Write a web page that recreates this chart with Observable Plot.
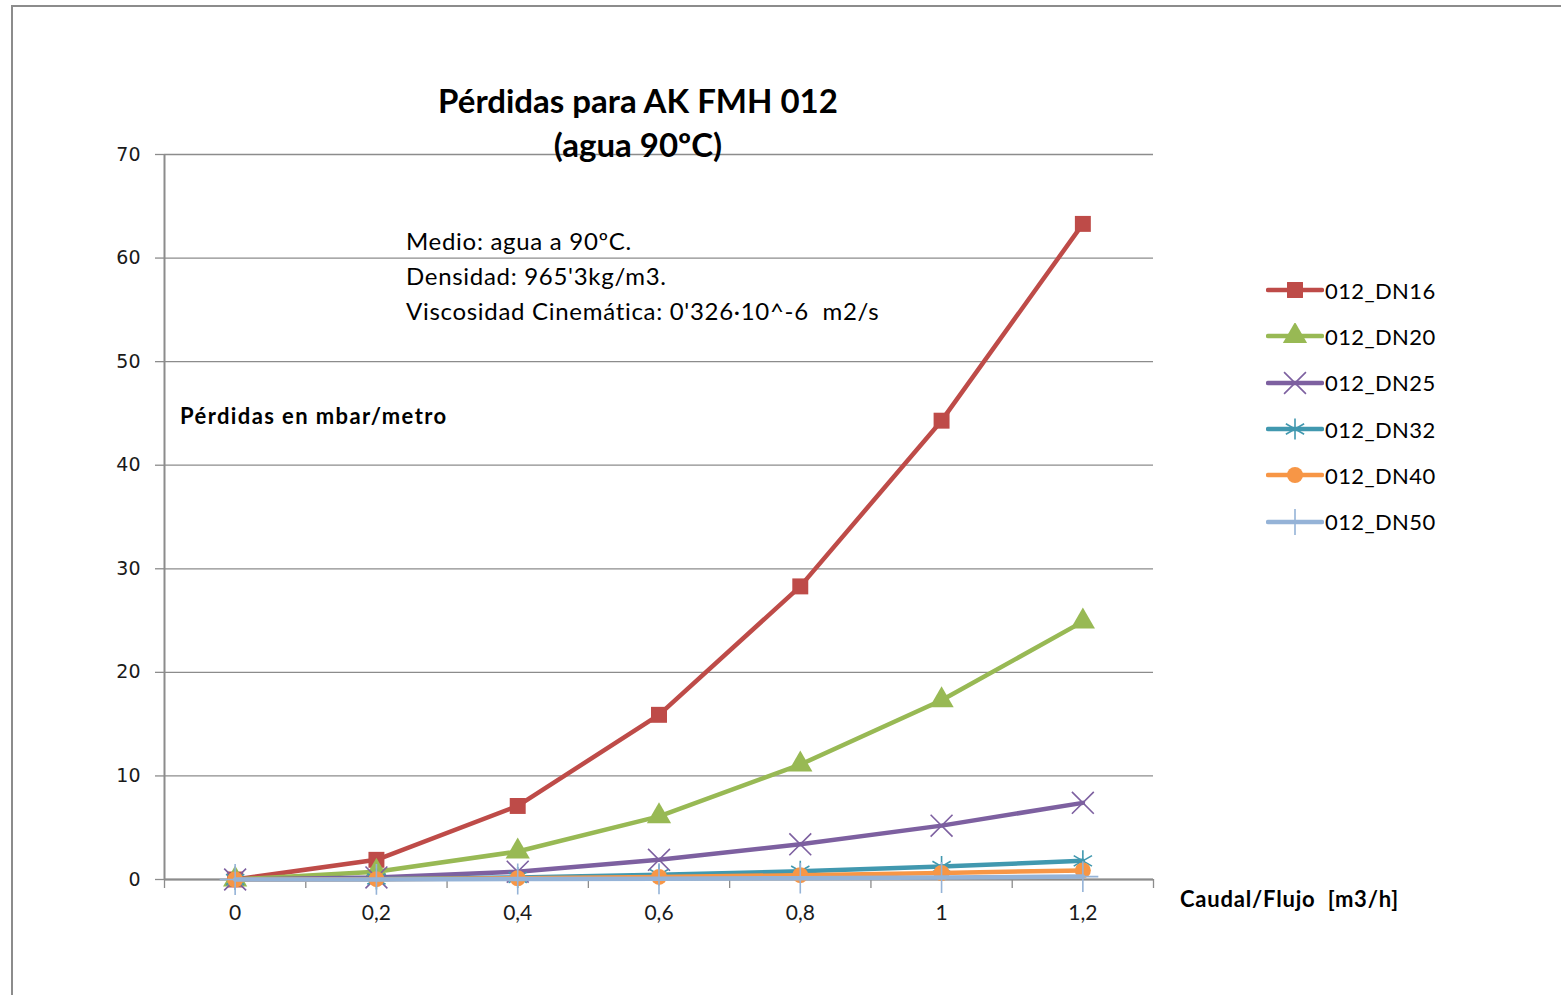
<!DOCTYPE html>
<html>
<head>
<meta charset="utf-8">
<script src="https://cdn.jsdelivr.net/npm/d3@7"></script>
<script src="https://cdn.jsdelivr.net/npm/@observablehq/plot@0.6"></script>
<style>
  html, body { margin: 0; padding: 0; background: #fff; overflow: hidden; }
  #wrap { position: relative; width: 1561px; height: 995px; }
  #frame { position: absolute; left: 11px; top: 5px; width: 1600px; height: 1100px; border: 2px solid #8c8c8c; box-sizing: border-box; }
  .t { position: absolute; white-space: pre; color: #000; font-family: Lato, "Open Sans", sans-serif; }
  #title { left: 418px; width: 440px; top: 78px; text-align: center; font-weight: bold; font-size: 33px; line-height: 44px; }
  .note { left: 406px; font-size: 24px; letter-spacing: 0.7px; }
  .lab { font-weight: bold; font-size: 22px; letter-spacing: 1.4px; }
  #legend { position: absolute; left: 1266px; top: 267px; }
  .li { display: flex; align-items: center; height: 46.3px; font-family: Lato, sans-serif; font-size: 22px; letter-spacing: 0.4px; }
  .li svg { margin-right: 1px; }
  #chart { position: absolute; left: 0; top: 0; }
</style>
</head>
<body>
<div id="wrap">
  <div id="frame"></div>
  <div id="chart"></div>
  <div id="title" class="t">Pérdidas para AK FMH 012
(agua 90ºC)</div>
  <div class="t note" style="top:226px">Medio: agua a 90ºC.</div>
  <div class="t note" style="top:261px">Densidad: 965'3kg/m3.</div>
  <div class="t note" style="top:296px">Viscosidad Cinemática: 0'326·10^-6  m2/s</div>
  <div class="t lab" style="left:180px; top:402px">Pérdidas en mbar/metro</div>
  <div class="t lab" style="left:1180px; top:885px; letter-spacing:0.8px">Caudal/Flujo  [m3/h]</div>
  <div id="legend"></div>
</div>
<script>
// ---- data ----
const caudal = [0, 0.2, 0.4, 0.6, 0.8, 1.0, 1.2];
const seriesNames = ["012_DN16", "012_DN20", "012_DN25", "012_DN32", "012_DN40", "012_DN50"];
const dn16 = [0, 1.9, 7.1, 15.9, 28.3, 44.3, 63.3];
const dn20 = [0, 0.75, 2.7, 6.1, 11.1, 17.3, 24.9];
const dn25 = [0, 0.2, 0.75, 1.9, 3.4, 5.2, 7.4];
const dn32 = [0, 0.05, 0.2, 0.45, 0.8, 1.25, 1.8];
const dn40 = [0, 0.03, 0.12, 0.25, 0.42, 0.63, 0.88];
const dn50 = [0, 0.01, 0.04, 0.08, 0.13, 0.2, 0.28];
const yTicks = [0, 10, 20, 30, 40, 50, 60, 70];
const xTickLabels = ["0", "0,2", "0,4", "0,6", "0,8", "1", "1,2"];

const colors = ["#BE4B48", "#98B954", "#7D60A0", "#4198AF", "#F79646", "#95B3D7"];
const symbols = ["square", "triangle", "times", "asterisk", "circle", "plus"];
const radii = [9, 9, 10, 10, 8, 10];

const values = [dn16, dn20, dn25, dn32, dn40, dn50];
const rows = [];
seriesNames.forEach((s, i) => values[i].forEach((v, j) => rows.push({serie: s, x: caudal[j], y: v, idx: i})));

const bounds = d3.range(caudal.length + 1).map(i => -0.1 + i * 0.2);

const marks = [
  Plot.gridY(yTicks, {stroke: "#8c8c8c", strokeOpacity: 1, strokeWidth: 1.3}),
  Plot.ruleX([-0.1], {stroke: "#8c8c8c", strokeWidth: 2}),
  Plot.ruleY([0], {stroke: "#8c8c8c", strokeWidth: 2}),
  Plot.axisY(yTicks, {label: null, tickSize: 9, tickPadding: 15, stroke: "#8c8c8c", strokeWidth: 1.3,
    fontSize: 19, fontFamily: "DejaVu Sans", fill: "#1a1a1a", tickFormat: d => String(d)}),
  Plot.axisX(bounds, {label: null, tickSize: 9, stroke: "#8c8c8c", strokeWidth: 1.3, tickFormat: () => ""}),
  Plot.axisX(caudal, {label: null, tickSize: 0, tickPadding: 26, fontSize: 21, fontFamily: "Lato, sans-serif", fill: "#1a1a1a",
    tickFormat: (d, i) => xTickLabels[i]})
];
seriesNames.forEach((s, i) => {
  const d = rows.filter(r => r.serie === s);
  marks.push(Plot.line(d, {x: "x", y: "y", stroke: colors[i], strokeWidth: 4.5}));
  const filled = ["square", "triangle", "circle"].includes(symbols[i]);
  marks.push(Plot.dot(d, {x: "x", y: "y", symbol: () => symbols[i], r: radii[i],
    fill: filled ? colors[i] : "none", stroke: colors[i], strokeWidth: filled ? 0 : 1.6}));
});

const chart = Plot.plot({
  width: 1561, height: 995,
  marginLeft: 164, marginRight: 408, marginTop: 154, marginBottom: 116,
  x: {domain: [-0.1, 1.3], axis: null},
  y: {domain: [0, 70], axis: null},
  symbol: {type: "identity"},
  style: {background: "transparent"},
  marks
});
document.getElementById("chart").appendChild(chart);

// ---- legend ----
const leg = document.getElementById("legend");
const symMap = {square: d3.symbolSquare, triangle: d3.symbolTriangle, times: d3.symbolTimes,
  asterisk: d3.symbolAsterisk, circle: d3.symbolCircle, plus: d3.symbolPlus};
seriesNames.forEach((s, i) => {
  const row = document.createElement("div");
  row.className = "li";
  const svg = d3.create("svg").attr("width", 58).attr("height", 26);
  svg.append("line").attr("x1", 2).attr("x2", 56).attr("y1", 13).attr("y2", 13)
    .attr("stroke", colors[i]).attr("stroke-width", 4.5).attr("stroke-linecap", "round");
  const filled = ["square", "triangle", "circle"].includes(symbols[i]);
  svg.append("path").attr("transform", "translate(29,13)")
    .attr("d", d3.symbol(symMap[symbols[i]], Math.PI * radii[i] * radii[i])())
    .attr("fill", filled ? colors[i] : "none").attr("stroke", colors[i]).attr("stroke-width", filled ? 0 : 1.6);
  row.appendChild(svg.node());
  const span = document.createElement("span");
  span.textContent = s;
  row.appendChild(span);
  leg.appendChild(row);
});
</script>
</body>
</html>
